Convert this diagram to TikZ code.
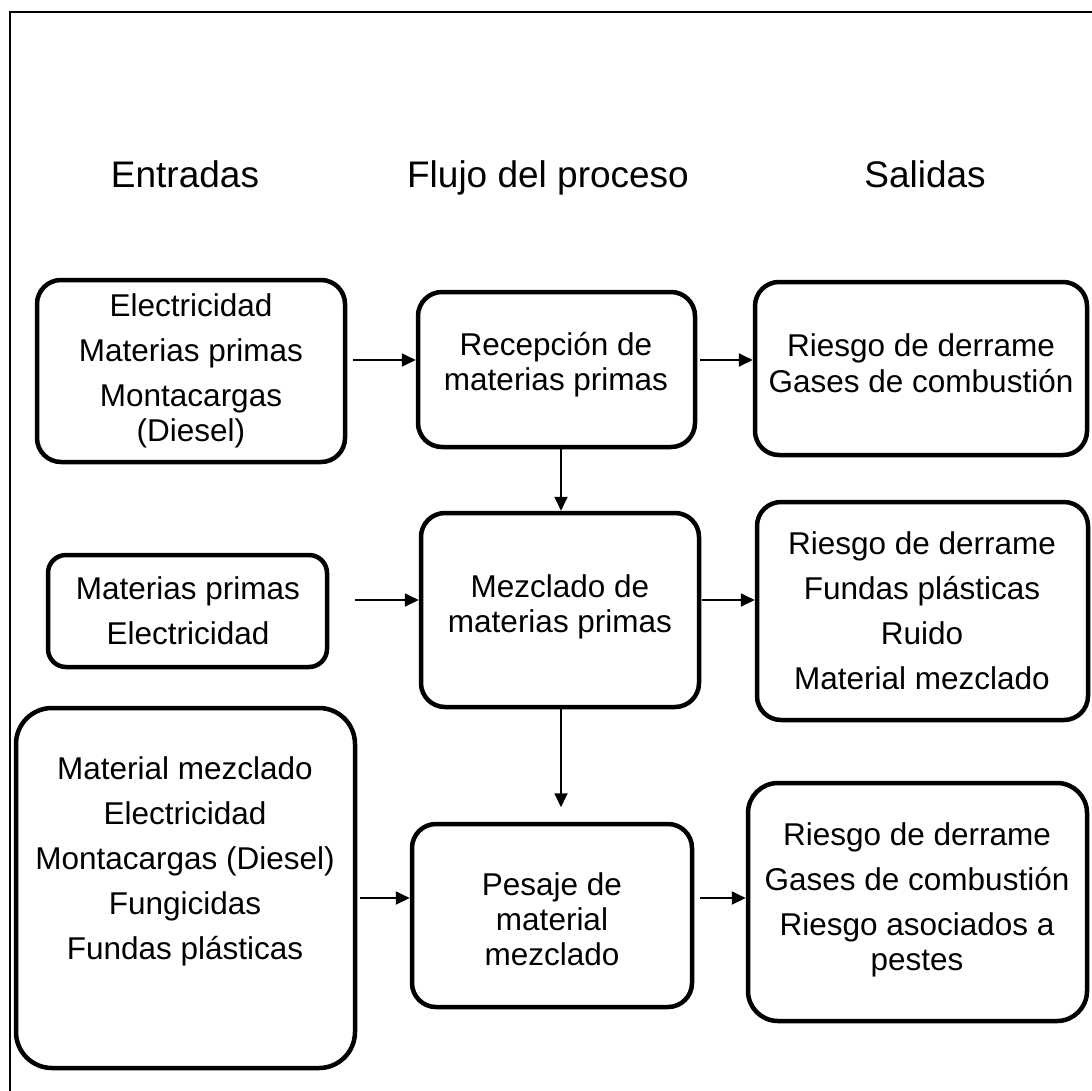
\documentclass[tikz,border=0pt]{standalone}
\usepackage{fontspec}
\setmainfont{Liberation Sans}
\usetikzlibrary{arrows.meta}
\begin{document}
\begin{tikzpicture}[x=1pt,y=-1pt,
  box/.style={draw,line width=4.5pt,rounded corners=24pt,inner sep=0pt},
  txt/.style={align=center,inner sep=0pt,font=\fontsize{31.5}{35}\selectfont},
  head/.style={inner sep=0pt,anchor=base,font=\fontsize{37}{42}\selectfont},
  arr/.style={line width=1.8pt,-{Triangle[length=14pt,width=13pt]}}]
\useasboundingbox (0,0) rectangle (1092,1090);
\coordinate (fa) at (10,1092);
\coordinate (fb) at (10,12);
\coordinate (fc) at (1094,12);
\draw[line width=1.5pt] (fa) -- (fb) -- (fc);
% headers
\node[head] (h1) at (185,187) {Entradas};
\node[head] (h2) at (548,187) {Flujo del proceso};
\node[head] (h3) at (925,187) {Salidas};
% boxes
\node[box,minimum width=308pt,minimum height=182pt] (a1) at (191,371) {};
\node[box,minimum width=277pt,minimum height=155pt] (p1) at (556.5,369.5) {};
\node[box,minimum width=332pt,minimum height=173pt] (o1) at (921,368.5) {};
\node[box,minimum width=279pt,minimum height=112pt,rounded corners=18pt] (a2) at (187.5,611) {};
\node[box,minimum width=278pt,minimum height=194pt] (p2) at (560,610) {};
\node[box,minimum width=331pt,minimum height=218pt] (o2) at (922.5,611) {};
\node[box,minimum width=339pt,minimum height=360pt,rounded corners=36pt] (a3) at (185.5,888) {};
\node[box,minimum width=280pt,minimum height=183pt] (p3) at (552,915.5) {};
\node[box,minimum width=339pt,minimum height=238pt,rounded corners=30pt] (o3) at (917.5,902) {};
% texts
\node[txt] (a1t) at (191,371) {Electricidad\\[10pt]Materias primas\\[10pt]Montacargas\\(Diesel)};
\node[txt] (p1t) at (556,365) {Recepción de\\materias primas};
\node[txt] (o1t) at (921,363) {Riesgo de derrame\\[1pt]Gases de combustión};
\node[txt] (a2t) at (188,611) {Materias primas\\[10pt]Electricidad};
\node[txt] (p2t) at (560,607) {Mezclado de\\materias primas};
\node[txt] (o2t) at (922,611) {Riesgo de derrame\\[10pt]Fundas plásticas\\[10pt]Ruido\\[10pt]Material mezclado};
\node[txt] (a3t) at (185,861) {Material mezclado\\[10pt]Electricidad\\[10pt]Montacargas (Diesel)\\[10pt]Fungicidas\\[10pt]Fundas plásticas};
\node[txt] (p3t) at (552,919) {Pesaje de\\material\\mezclado};
\node[txt] (o3t) at (917,900) {Riesgo de derrame\\[10pt]Gases de combustión\\[10pt]Riesgo asociados a\\pestes};
% arrows
\draw[arr] ([xshift=5.5pt,yshift=11pt]a1.east) -- ([yshift=9.5pt]p1.west);
\draw[arr] ([xshift=2.5pt,yshift=9.5pt]p1.east) -- ([yshift=8.5pt]o1.west);
\draw[arr] ([xshift=4.5pt]p1.south) -- ([xshift=1pt]p2.north);
\draw[arr] ([xshift=25.5pt,yshift=11pt]a2.east) -- ([yshift=10pt]p2.west);
\draw[arr] ([xshift=0.5pt,yshift=10pt]p2.east) -- ([yshift=11pt]o2.west);
\draw[arr] ([xshift=1pt]p2.south) -- ([xshift=9pt,yshift=14.5pt]p3.north);
\draw[arr] ([xshift=2.5pt,yshift=-10pt]a3.east) -- ([yshift=17.5pt]p3.west);
\draw[arr] ([xshift=5.5pt,yshift=17.5pt]p3.east) -- ([yshift=4pt]o3.west);
\end{tikzpicture}
\end{document}
